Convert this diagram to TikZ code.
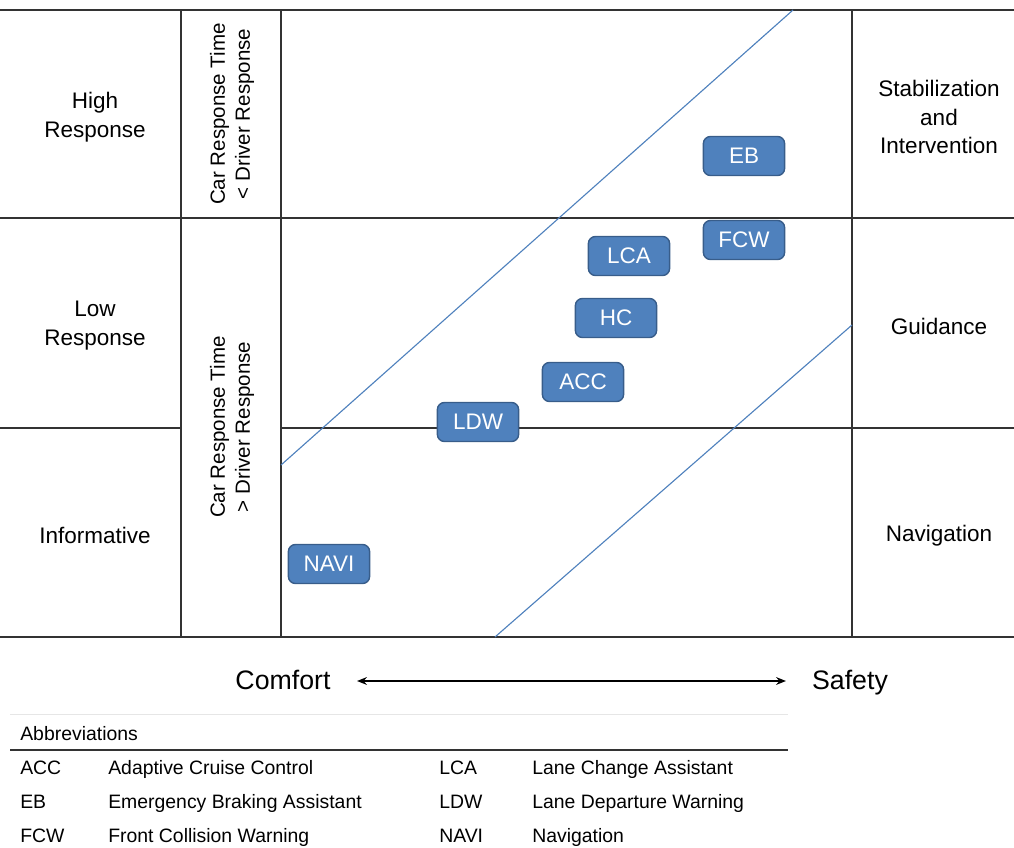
\documentclass[tikz,border=0pt]{standalone}
\usepackage{fontspec}
\setmainfont{Liberation Sans}
\usetikzlibrary{arrows.meta}
\definecolor{boxblue}{HTML}{4F81BD}
\definecolor{boxedge}{HTML}{385D8A}
\definecolor{gridline}{HTML}{333333}
\definecolor{faint}{HTML}{E6E6E6}
\begin{document}
\begin{tikzpicture}[x=0.025cm,y=-0.025cm,
 gridl/.style={draw=gridline,line width=1.1pt},
 feat/.style={rectangle,rounded corners=5pt,fill=boxblue,draw=boxedge,line width=1pt,text=white,minimum width=2.03cm,minimum height=0.975cm,font=\fontsize{16}{19}\selectfont,inner sep=0pt},
 lab/.style={align=center,font=\fontsize{16}{20.5}\selectfont},
 rot/.style={align=center,rotate=90,font=\fontsize{14.6}{17.7}\selectfont},
 big/.style={font=\fontsize{19}{22}\selectfont},
 diag/.style={draw=boxblue,line width=0.8pt},
 tab/.style={anchor=mid west,font=\fontsize{13.8}{16}\selectfont,inner sep=0pt}]
\useasboundingbox (0,0) rectangle (1014,848);
% grid
\draw[gridl] (0,10) -- (1014,10);
\draw[gridl] (0,218) -- (1014,218);
\draw[gridl] (0,428) -- (181,428);
\draw[gridl] (281,428) -- (1014,428);
\draw[gridl] (0,637) -- (1014,637);
\draw[gridl] (181,10) -- (181,637);
\draw[gridl] (281,10) -- (281,637);
\draw[gridl] (852,10) -- (852,637);
% diagonal lines
\coordinate (d1a) at (281,465);
\coordinate (d1b) at (793,10);
\coordinate (d2a) at (495,637);
\coordinate (d2b) at (852,325);
\draw[diag] (d1a) -- (d1b);
\draw[diag] (d2a) -- (d2b);
% left labels
\node[lab] (high) at (95,117) {High\\Response};
\node[lab] (low) at (95,326) {Low\\Response};
\node[lab] (info) at (95,535) {Informative};
% middle column
\node[rot] (less) at (232,114) {Car Response Time\\< Driver Response};
\node[rot] (more) at (232,427) {Car Response Time\\> Driver Response};
% right labels
\node[lab] (stab) at (939,117) {Stabilization\\and\\Intervention};
\node[lab] (guid) at (939,326) {Guidance};
\node[lab] (navl) at (939,536) {Navigation};
% features
\node[feat] (EB) at (744,156) {EB};
\node[feat] (FCW) at (744,240) {FCW};
\node[feat] (LCA) at (629,256) {LCA};
\node[feat] (HC) at (616,318) {HC};
\node[feat] (ACC) at (583,382) {ACC};
\node[feat] (LDW) at (478,422) {LDW};
\node[feat] (NAVI) at (329,564) {NAVI};
% comfort-safety axis
\node[big] (comfort) at (283,680) {Comfort};
\node[big] (safety) at (850,683) {Safety};
\coordinate (al) at (357,681);
\coordinate (ar) at (786,681);
\draw[{Stealth[length=7pt,width=5.5pt]}-{Stealth[length=7pt,width=5.5pt]},line width=1.5pt] (al) -- (ar);
% abbreviations table
\draw[faint,line width=0.6pt] (10,714) -- (788,714);
\draw[gridline,line width=1pt] (10,750) -- (788,750);
\node[tab] (abbr) at (20,737) {Abbreviations};
\node[tab] (t1a) at (20,771) {ACC};
\node[tab] (t1b) at (108,771) {Adaptive Cruise Control};
\node[tab] (t1c) at (439,771) {LCA};
\node[tab] (t1d) at (532,771) {Lane Change Assistant};
\node[tab] (t2a) at (20,805) {EB};
\node[tab] (t2b) at (108,805) {Emergency Braking Assistant};
\node[tab] (t2c) at (439,805) {LDW};
\node[tab] (t2d) at (532,805) {Lane Departure Warning};
\node[tab] (t3a) at (20,839) {FCW};
\node[tab] (t3b) at (108,839) {Front Collision Warning};
\node[tab] (t3c) at (439,839) {NAVI};
\node[tab] (t3d) at (532,839) {Navigation};
\end{tikzpicture}
\end{document}
